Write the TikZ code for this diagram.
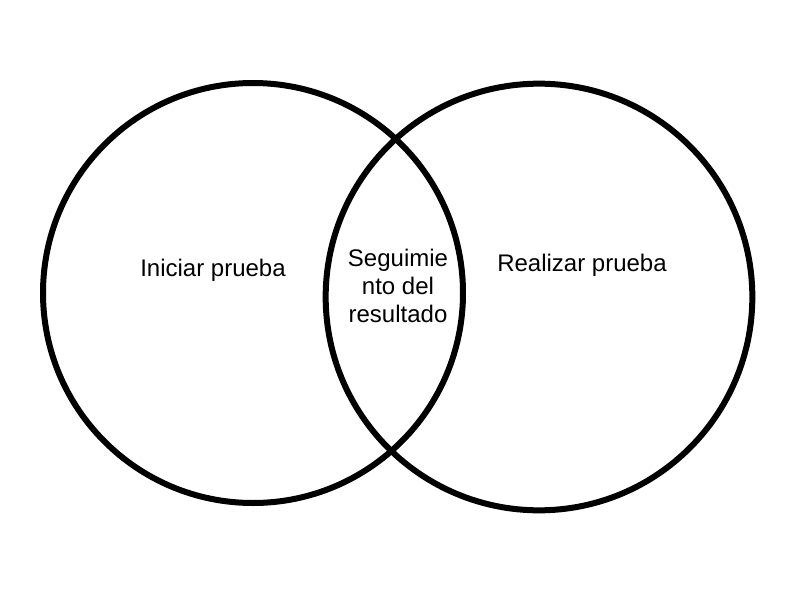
\documentclass[tikz,border=0pt]{standalone}
\usepackage{fontspec}
\setmainfont{Liberation Sans}
\usepackage{tikz}
\tikzset{
	setcircle/.style={circle, draw=black, line width=4.5pt, fill=none, inner sep=0pt},
	setlabel/.style={font=\fontsize{18pt}{21pt}\selectfont, align=center, text=black},
}

\begin{document}
\begin{tikzpicture}[x=0.75pt, y=-0.75pt]
	\useasboundingbox (0,0) rectangle (800,600);
	\node[setcircle, minimum size=315pt] (left) at (253,293) {};
	\node[setcircle, minimum size=320pt] (right) at (539,297) {};
	\node[setlabel] (start) at (213,270) {Iniciar prueba};
	\node[setlabel] (run) at (582,265) {Realizar prueba};
	\node[setlabel] (follow) at (398,286) {Seguimie\\nto del\\resultado};
\end{tikzpicture}
\end{document}
